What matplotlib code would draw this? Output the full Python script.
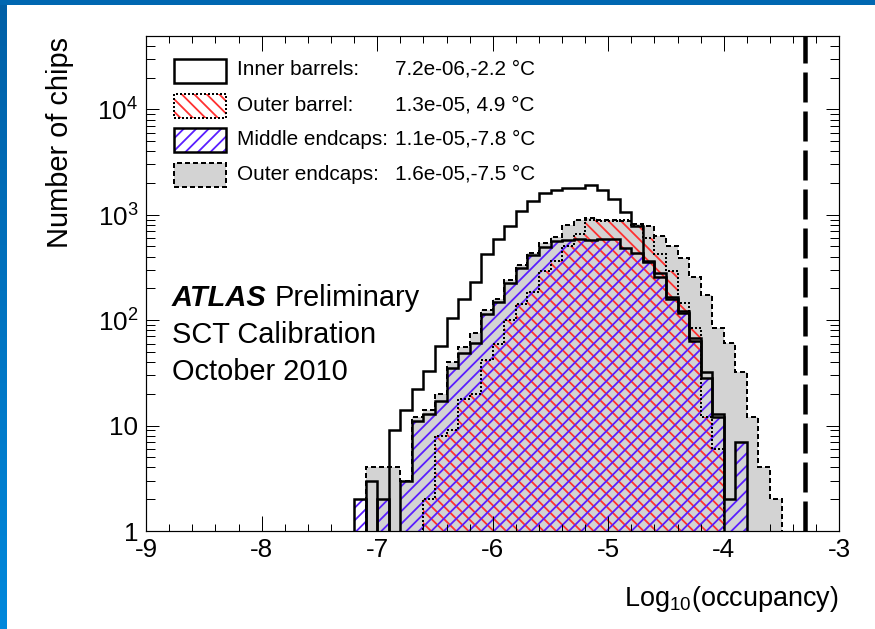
import numpy as np
import matplotlib
matplotlib.use("Agg")
import matplotlib.pyplot as plt
from matplotlib.patches import Rectangle
from matplotlib.colors import LinearSegmentedColormap
from matplotlib.ticker import FixedLocator, FixedFormatter, LogLocator, MultipleLocator, NullFormatter

W, H, DPI = 875, 629, 150
PT = 72.0 / DPI  # points per output pixel

plt.rcParams['font.family'] = ['Liberation Sans', 'DejaVu Sans']
plt.rcParams['mathtext.fontset'] = 'custom'
plt.rcParams['mathtext.rm'] = 'Liberation Sans'
plt.rcParams['mathtext.it'] = 'Liberation Sans:italic'
plt.rcParams['mathtext.bf'] = 'Liberation Sans:bold'
plt.rcParams['hatch.linewidth'] = 1.8 * PT

# ---- histogram contents: bins of width 0.1 in log10(occupancy), first bin starts at -7.2
bin_start = -7.2
bin_width = 0.1
inner_barrels = [0, 3, 0, 9, 14, 22, 33, 57, 105, 157, 230, 420, 585, 780, 1090, 1360, 1590,
                 1700, 1780, 1800, 1900, 1700, 1420, 1050, 780, 365, 280, 165, 122, 68, 32, 13,
                 0, 0, 0, 0, 0]
outer_barrel = [0, 0, 0, 0, 0, 0, 2, 8, 9, 18, 20, 42, 60, 100, 143, 186, 290, 362, 500, 650,
                900, 880, 880, 900, 780, 600, 420, 290, 144, 85, 12, 6, 0, 0, 0, 0, 0]
middle_endcaps = [2, 0, 2, 0, 3, 11, 13, 17, 35, 49, 61, 115, 149, 223, 310, 418, 495, 564,
                  575, 590, 580, 590, 585, 485, 434, 355, 258, 160, 118, 64, 28, 12, 2, 7, 0, 0, 0]
outer_endcaps = [0, 4, 4, 4, 3, 12, 14, 20, 40, 55, 76, 125, 160, 240, 337, 434, 540, 620, 800,
                 900, 940, 900, 900, 880, 825, 780, 630, 500, 390, 258, 173, 85, 61, 32, 12, 4, 2]
noise_limit = -3.3

legend_names = ["Inner barrels:", "Outer barrel:", "Middle endcaps:", "Outer endcaps:"]
legend_values = ["7.2e-06,-2.2 °C", "1.3e-05, 4.9 °C", "1.1e-05,-7.8 °C", "1.6e-05,-7.5 °C"]

y_ticks = [1, 10, 100, 1000, 10000]
y_ticklabels = ["1", "10", "10$^{2}$", "10$^{3}$", "10$^{4}$"]
x_ticks = [-9, -8, -7, -6, -5, -4, -3]
x_ticklabels = ["-9", "-8", "-7", "-6", "-5", "-4", "-3"]

GREY = '#d3d3d3'
RED = '#ff3030'
BLUE = '#5a1eff'
RED_HATCH = '\\\\\\\\'
BLUE_HATCH = '////'

edges = bin_start + bin_width * np.arange(len(inner_barrels) + 1)
FLOOR = 1e-2


def shown(v):
    v = np.asarray(v, dtype=float)
    return np.where(v > 0, v, FLOOR)


def fx(px):
    return px / W


def fy(py):
    return 1 - py / H


fig = plt.figure(figsize=(875.4 / DPI, 629.4 / DPI), dpi=DPI)
fig.patch.set_facecolor('white')

# blue frame along the top and left edges
grad = np.linspace(0, 1, 256).reshape(-1, 1)
gax = fig.add_axes([0, 0, fx(6), 1])
cm = LinearSegmentedColormap.from_list('frame', ['#005fa6', '#0088dc'])
gax.imshow(grad, aspect='auto', cmap=cm, origin='upper')
gax.set_axis_off()
fig.add_artist(Rectangle((0, fy(5)), 1, 5 / H, transform=fig.transFigure,
                         facecolor='#0067b1', edgecolor='none', zorder=5))

ax = fig.add_axes([fx(146), fy(531), fx(839) - fx(146), fy(36) - fy(531)])
ax.set_xlim(-9, -3)
ax.set_yscale('log')
ax.set_ylim(1, 5e4)

# filled areas first
ax.stairs(shown(outer_endcaps), edges, baseline=FLOOR, fill=True,
          facecolor=GREY, edgecolor='none', lw=0)
ax.stairs(shown(outer_barrel), edges, baseline=FLOOR, fill=True,
          facecolor='none', edgecolor=RED, hatch=RED_HATCH, lw=0)
ax.stairs(shown(middle_endcaps), edges, baseline=FLOOR, fill=True,
          facecolor='none', edgecolor=BLUE, hatch=BLUE_HATCH, lw=0)

# outlines on top
ax.stairs(shown(outer_endcaps), edges, baseline=FLOOR, color='black',
          lw=2 * PT, linestyle=(0, (2.5, 1.5)))
ax.stairs(shown(outer_barrel), edges, baseline=FLOOR, color='black',
          lw=2 * PT, linestyle=(0, (1, 1)))
ax.stairs(shown(middle_endcaps), edges, baseline=FLOOR, color='black', lw=2.5 * PT)
ax.stairs(shown(inner_barrels), edges, baseline=FLOOR, color='black', lw=2.5 * PT)

ax.axvline(noise_limit, color='black', lw=4.5 * PT, linestyle=(0, (30 / 4.5, 9 / 4.5)))

# axes styling
for s in ax.spines.values():
    s.set_linewidth(1.2 * PT)
ax.xaxis.set_major_locator(FixedLocator(x_ticks))
ax.xaxis.set_major_formatter(FixedFormatter(x_ticklabels))
ax.xaxis.set_minor_locator(MultipleLocator(0.2))
ax.yaxis.set_major_locator(FixedLocator(y_ticks))
ax.yaxis.set_major_formatter(FixedFormatter(y_ticklabels))
ax.yaxis.set_minor_locator(LogLocator(base=10, subs=np.arange(2, 10)))
ax.yaxis.set_minor_formatter(NullFormatter())
ax.tick_params(which='both', direction='in', top=True, right=True, width=1 * PT,
               labelsize=26 * PT)
ax.tick_params(axis='x', which='major', length=15 * PT, pad=7 * PT)
ax.tick_params(axis='x', which='minor', length=7 * PT)
ax.tick_params(axis='y', which='major', length=13 * PT, pad=8 * PT)
ax.tick_params(axis='y', which='minor', length=9 * PT)

fig.text(fx(60), fy(37), 'Number of chips', rotation=90, ha='center', va='top',
         fontsize=29 * PT)
fig.text(fx(838), fy(606), 'Log$_{10}$(occupancy)', ha='right', va='baseline',
         fontsize=27 * PT)

# legend
row_y = [71, 106, 140.5, 175]
text_y = [69, 105, 139, 174]
box_x0, box_x1, box_h = 174, 226, 24
fills = [dict(facecolor='white', hatch=None, hc='none', ls='-', lw=2.5),
         dict(facecolor='none', hatch=RED_HATCH, hc=RED, ls=(0, (1, 1)), lw=2),
         dict(facecolor='none', hatch=BLUE_HATCH, hc=BLUE, ls='-', lw=2.5),
         dict(facecolor=GREY, hatch=None, hc='none', ls=(0, (2.5, 1.5)), lw=2)]
for yc, ty, st, name, val in zip(row_y, text_y, fills, legend_names, legend_values):
    x0, y0 = fx(box_x0), fy(yc + box_h / 2)
    w, h = fx(box_x1) - fx(box_x0), box_h / H
    fig.add_artist(Rectangle((x0, y0), w, h, transform=fig.transFigure,
                             facecolor=st['facecolor'], edgecolor=st['hc'],
                             hatch=st['hatch'], lw=0, zorder=6))
    fig.add_artist(Rectangle((x0, y0), w, h, transform=fig.transFigure,
                             facecolor='none', edgecolor='black',
                             linestyle=st['ls'], lw=st['lw'] * PT, zorder=7))
    fig.text(fx(237), fy(ty), name, ha='left', va='center', fontsize=20.8 * PT)
    fig.text(fx(395), fy(ty), val, ha='left', va='center', fontsize=20.8 * PT)

# experiment label
renderer = fig.canvas.get_renderer()
t_atlas = fig.text(fx(172), fy(306), 'ATLAS', fontsize=29 * PT, fontweight='bold',
                   fontstyle='italic', va='baseline', ha='left')
bb = t_atlas.get_window_extent(renderer=renderer)
fig.text((bb.x1 + 8) / fig.bbox.width, fy(306), 'Preliminary', fontsize=29 * PT,
         va='baseline', ha='left')
fig.text(fx(172), fy(343), 'SCT Calibration', fontsize=29 * PT, va='baseline', ha='left')
fig.text(fx(172), fy(380), 'October 2010', fontsize=29 * PT, va='baseline', ha='left')

fig.savefig('out.png', dpi=DPI, facecolor='white')
